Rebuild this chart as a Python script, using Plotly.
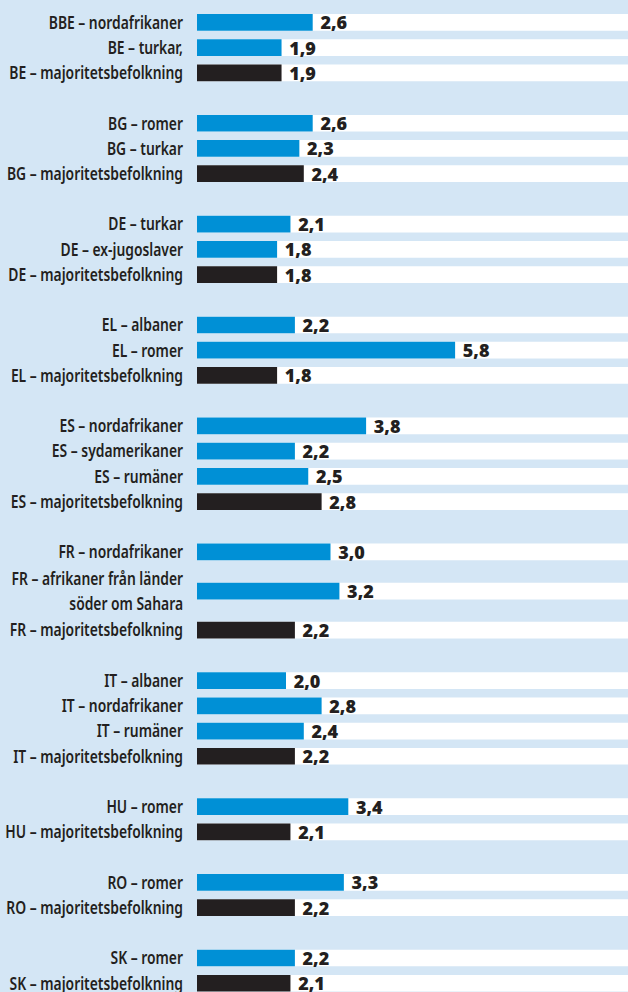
import plotly.graph_objects as go

labels = [
    "BBE – nordafrikaner", "BE – turkar,", "BE – majoritetsbefolkning",
    "BG – romer", "BG – turkar", "BG – majoritetsbefolkning",
    "DE – turkar", "DE – ex-jugoslaver", "DE – majoritetsbefolkning",
    "EL – albaner", "EL – romer", "EL – majoritetsbefolkning",
    "ES – nordafrikaner", "ES – sydamerikaner", "ES – rumäner", "ES – majoritetsbefolkning",
    "FR – nordafrikaner", "FR – afrikaner från länder<br>söder om Sahara", "FR – majoritetsbefolkning",
    "IT – albaner", "IT – nordafrikaner", "IT – rumäner", "IT – majoritetsbefolkning",
    "HU – romer", "HU – majoritetsbefolkning",
    "RO – romer", "RO – majoritetsbefolkning",
    "SK – romer", "SK – majoritetsbefolkning",
]
values = [
    2.6, 1.9, 1.9,
    2.6, 2.3, 2.4,
    2.1, 1.8, 1.8,
    2.2, 5.8, 1.8,
    3.8, 2.2, 2.5, 2.8,
    3.0, 3.2, 2.2,
    2.0, 2.8, 2.4, 2.2,
    3.4, 2.1,
    3.3, 2.2,
    2.2, 2.1,
]
group_sizes = [3, 3, 3, 3, 4, 3, 4, 2, 2, 2]

BLUE = "#0090d6"
BLACK = "#231f20"
BG = "#d4e6f5"

# row positions (slot units), with an empty slot between groups
positions = []
s = 0.0
i = 0
for g, n in enumerate(group_sizes):
    if g > 0:
        s += 2
    for k in range(n):
        lines = labels[i].count("<br>") + 1
        if k > 0:
            s += 1 + 0.55 * (lines - 1)
            if labels[i - 1].count("<br>"):
                s += 0.55
        positions.append(s)
        i += 1

colors = [BLACK if "majoritetsbefolkning" in l else BLUE for l in labels]
texts = [" " + f"{v:.1f}".replace(".", ",") for v in values]

# tick labels: multi-line labels are split into separate lines
tickvals, ticktext = [], []
for p, l in zip(positions, labels):
    parts = l.split("<br>")
    nl = len(parts)
    for j, part in enumerate(parts):
        tickvals.append(p + (j - (nl - 1) / 2) * 1.0)
        ticktext.append(part)

XMAX = 9.685
pitch = 25.22
y_top = -22.35 / pitch
y_bot = (992 - 22.35) / pitch

fig = go.Figure()
fig.add_trace(go.Bar(
    y=positions, x=[XMAX] * len(values), orientation="h",
    marker=dict(color="white", line=dict(width=0)), width=0.662,
    hoverinfo="skip", showlegend=False,
))
fig.add_trace(go.Bar(
    y=positions, x=values, orientation="h",
    marker=dict(color=colors, line=dict(width=0)), width=0.662,
    text=texts, textposition="outside", constraintext="none", cliponaxis=False,
    textfont=dict(family="Open Sans", size=18, color=BLACK, weight=800),
    showlegend=False,
))
fig.update_layout(
    width=628, height=992,
    margin=dict(l=197, r=0, t=0, b=0, autoexpand=False),
    barmode="overlay",
    paper_bgcolor=BG, plot_bgcolor=BG,
    xaxis=dict(range=[0, XMAX], visible=False, fixedrange=True),
    yaxis=dict(
        range=[y_bot, y_top], tickvals=tickvals, ticktext=ticktext,
        showgrid=False, zeroline=False, ticks="", ticklabelstandoff=13,
        automargin=False, fixedrange=True, ticklabeloverflow="allow",
        tickfont=dict(family="Noto Sans", size=18, color=BLACK, weight=600),
    ),
)
post = """
document.body.style.margin='0';
var gd = document.getElementById('{plot_id}');
function condense(){
  document.querySelectorAll('.ytick text').forEach(function(t){
    var tr = t.getAttribute('transform') || '';
    if (t.__done === tr) return;
    var x = parseFloat(t.getAttribute('x')) || 0;
    var n = tr + ' translate(' + x + ',0) scale(0.77,1) translate(' + (-x) + ',0)';
    t.setAttribute('transform', n);
    t.__done = n;
  });
}
condense();
if (gd && gd.on) { gd.on('plotly_afterplot', condense); }
"""
fig.write_html("out.html", post_script=post, config={"displayModeBar": False})
